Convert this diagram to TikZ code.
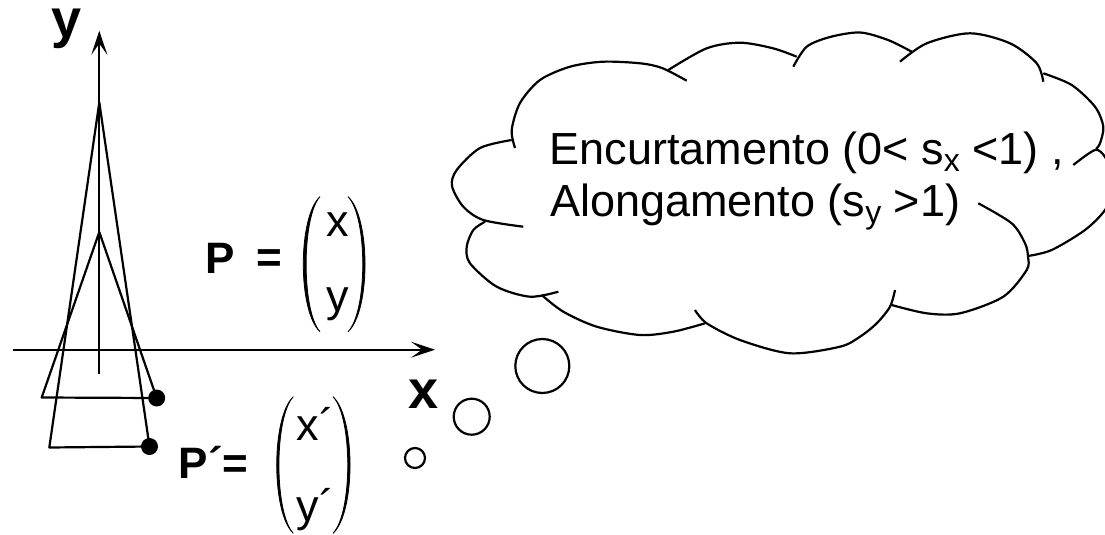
\documentclass[tikz,border=0pt]{standalone}
\usepackage{fontspec}
\setmainfont{Liberation Sans}
\usetikzlibrary{arrows.meta}
\tikzset{
  ln/.style={line width=2.2pt},
  axis/.style={ln, -{Stealth[length=24pt,width=16pt,inset=11pt]}},
  dotnode/.style={circle, fill=black, inner sep=0pt, minimum size=17pt},
  bigtxt/.style={font=\fontsize{45}{52}\selectfont, inner sep=0pt},
  boldtxt/.style={font=\fontsize{44}{50}\selectfont\bfseries, inner sep=0pt},
  axlbl/.style={font=\fontsize{54}{60}\selectfont\bfseries, inner sep=0pt, text height=0.53em},
  bump/.style={ln, line join=round},
  bubble/.style={circle, draw, ln, inner sep=0pt},
  paren/.style={fill=black, draw=black, line width=0.8pt},
}
\newcommand\sbx[1]{\raisebox{-7pt}{\fontsize{32}{32}\selectfont #1}}
\begin{document}
\begin{tikzpicture}[x=1pt,y=-1pt]
\useasboundingbox (0,0) rectangle (1105,535);
% axes
\coordinate (yb) at (99.3,373.6);
\coordinate (yt) at (99.3,30.7);
\coordinate (xl) at (12.7,349.7);
\coordinate (xr) at (435,349.7);
\draw[axis] (yb) -- (yt);
\draw[axis] (xl) -- (xr);
\node[axlbl, anchor=base] (ylab) at (67,37.5) {y};
\node[axlbl, anchor=base] (xlab) at (423.5,408.3) {x};
% tall triangle
\coordinate (A1) at (99.3,102.4);
\coordinate (B1) at (49.3,447.5);
\node[dotnode] (D1) at (149.5,446.5) {};
\draw[ln, line join=round] (B1) -- (D1.center) -- (A1) -- cycle;
% short triangle
\coordinate (A2) at (99.3,232);
\coordinate (B2) at (41.7,397.5);
\node[dotnode] (D2) at (156.7,398) {};
\draw[ln, line join=round] (B2) -- (D2.center) -- (A2) -- cycle;
% P matrix
\node[boldtxt, anchor=base west] (P) at (205,273.3) {P};
\node[boldtxt, anchor=base west] (eq) at (256,272.5) {=};
\node[bigtxt, anchor=base] (px) at (337.5,236.7) {x};
\node[bigtxt, anchor=base] (py) at (337.5,311.7) {y};
\path[paren] (320,196.7) .. controls (297.7,216.95) and (297.7,311.45) .. (320,331.7)
  .. controls (301.5,311.45) and (301.5,216.95) .. (320,196.7) -- cycle;
\path[paren] (348,196.7) .. controls (370.7,216.95) and (370.7,311.45) .. (348,331.7)
  .. controls (367.7,311.45) and (367.7,216.95) .. (348,196.7) -- cycle;
% P' matrix
\node[boldtxt, anchor=base west] (Pp) at (178.5,478.3) {P´=};
\node[bigtxt, anchor=base west] (pxp) at (296.5,440) {x´};
\node[bigtxt, anchor=base west] (pyp) at (296.5,521.7) {y´};
\path[paren] (293.3,396.7) .. controls (271.2,417.2) and (271.2,512.8) .. (293.3,533.3)
  .. controls (274.1,512.8) and (274.1,417.2) .. (293.3,396.7) -- cycle;
\path[paren] (333,396.7) .. controls (355.7,417.2) and (355.7,512.8) .. (333,533.3)
  .. controls (352.7,512.8) and (352.7,417.2) .. (333,396.7) -- cycle;
% thought bubbles
\node[bubble, minimum size=54pt] (c1) at (542.3,366) {};
\node[bubble, minimum size=36pt] (c2) at (471.7,416.7) {};
\node[bubble, minimum size=20pt] (c3) at (415,458) {};
% cloud
\begin{scope}
\clip (0,0) rectangle (1105,535);
\draw[bump] plot[smooth] coordinates {(515,148) (511.7,130) (520,103) (540,80) (570,66.7) (603,61.7) (640,63.3) (662,68) (686.7,80.7)};
\draw[bump] plot[smooth] coordinates {(668.3,70) (706.7,48.3) (740,42.7) (773,48.3) (796.7,56.7)};
\draw[bump] plot[smooth] coordinates {(793.3,66.7) (806.7,46.7) (830,37) (860,32.5) (888,40) (911.7,51.7)};
\draw[bump] plot[smooth] coordinates {(900,61.7) (926.7,43.3) (970,33.3) (1010,43.3) (1036.7,63.3) (1043.3,81.7)};
\draw[bump] plot[smooth] coordinates {(1043.3,73.3) (1071.7,85) (1095,106.7) (1103.3,126.7) (1100,143.3) (1096,149)};
\draw[bump] plot[smooth] coordinates {(1073.3,165) (1095,150) (1105,157) (1112,175) (1113,190) (1105,210) (1085,230) (1051.7,250) (1028,256)};
\draw[bump] plot[smooth] coordinates {(978.3,203.3) (1011.7,223.3) (1025,243.3) (1028,256.7) (1026.7,270) (1003.3,296.7) (960,313.3) (926.7,313.3) (891.7,305)};
\draw[bump] plot[smooth] coordinates {(895,290) (890,306.7) (876.7,323.3) (860,336.7) (840,346.7) (790,353.3) (740,340) (706.7,323.3) (695,310)};
\draw[bump] plot[smooth] coordinates {(705,323.3) (673.3,331.7) (640,335) (596.7,326.7) (563.3,311.7) (541.7,295)};
\draw[bump] plot[smooth] coordinates {(558.3,291.7) (530,296.7) (496.7,286.7) (470,263.3) (466.7,246.7) (473.3,230) (485,221.7)};
\draw[bump] plot[smooth] coordinates {(523.3,226.7) (483.3,220) (463.3,206.7) (452,186) (456.7,170) (480,148) (511.7,140)};
\end{scope}
\node[bigtxt, anchor=base west] (l1) at (549.7,164) {Encurtamento (0< s\sbx{x} <1) ,};
\node[bigtxt, anchor=base west] (l2) at (550,216.7) {Alongamento (s\sbx{y} >1)};
\end{tikzpicture}
\end{document}
